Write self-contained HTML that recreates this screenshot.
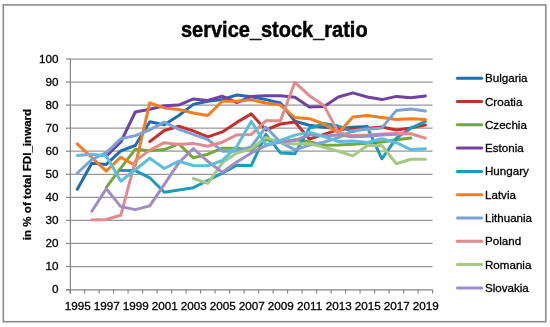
<!DOCTYPE html><html><head><meta charset="utf-8"><style>
html,body{margin:0;padding:0;background:#fff;width:550px;height:327px;overflow:hidden}
svg{display:block}
text{font-family:"Liberation Sans",sans-serif;fill:#000} .t{filter:grayscale(1);stroke:#000;stroke-width:0.3px} .g{filter:grayscale(1)}
</style></head><body>
<svg width="550" height="327" viewBox="0 0 550 327">
<rect x="0" y="0" width="550" height="327" fill="#fff"/>
<rect x="3.3" y="4.9" width="542.5" height="316.8" fill="none" stroke="#8a8a8a" stroke-width="1.6"/>
<text class="g" stroke="#000" stroke-width="0.45" transform="translate(274.3,36.9) scale(1,1.08)" text-anchor="middle" font-size="20" font-weight="bold">service_stock_ratio</text>
<line x1="66" y1="289.60" x2="70.10" y2="289.60" stroke="#8a8a8a" stroke-width="1.2"/>
<text class="t" x="58.6" y="293.20" text-anchor="end" font-size="11.7">0</text>
<line x1="70.10" y1="266.54" x2="432.60" y2="266.54" stroke="#979797" stroke-width="1.25"/>
<line x1="66" y1="266.54" x2="70.10" y2="266.54" stroke="#8a8a8a" stroke-width="1.2"/>
<text class="t" x="58.6" y="270.14" text-anchor="end" font-size="11.7">10</text>
<line x1="70.10" y1="243.48" x2="432.60" y2="243.48" stroke="#979797" stroke-width="1.25"/>
<line x1="66" y1="243.48" x2="70.10" y2="243.48" stroke="#8a8a8a" stroke-width="1.2"/>
<text class="t" x="58.6" y="247.08" text-anchor="end" font-size="11.7">20</text>
<line x1="70.10" y1="220.42" x2="432.60" y2="220.42" stroke="#979797" stroke-width="1.25"/>
<line x1="66" y1="220.42" x2="70.10" y2="220.42" stroke="#8a8a8a" stroke-width="1.2"/>
<text class="t" x="58.6" y="224.02" text-anchor="end" font-size="11.7">30</text>
<line x1="70.10" y1="197.36" x2="432.60" y2="197.36" stroke="#979797" stroke-width="1.25"/>
<line x1="66" y1="197.36" x2="70.10" y2="197.36" stroke="#8a8a8a" stroke-width="1.2"/>
<text class="t" x="58.6" y="200.96" text-anchor="end" font-size="11.7">40</text>
<line x1="70.10" y1="174.30" x2="432.60" y2="174.30" stroke="#979797" stroke-width="1.25"/>
<line x1="66" y1="174.30" x2="70.10" y2="174.30" stroke="#8a8a8a" stroke-width="1.2"/>
<text class="t" x="58.6" y="177.90" text-anchor="end" font-size="11.7">50</text>
<line x1="70.10" y1="151.24" x2="432.60" y2="151.24" stroke="#979797" stroke-width="1.25"/>
<line x1="66" y1="151.24" x2="70.10" y2="151.24" stroke="#8a8a8a" stroke-width="1.2"/>
<text class="t" x="58.6" y="154.84" text-anchor="end" font-size="11.7">60</text>
<line x1="70.10" y1="128.18" x2="432.60" y2="128.18" stroke="#979797" stroke-width="1.25"/>
<line x1="66" y1="128.18" x2="70.10" y2="128.18" stroke="#8a8a8a" stroke-width="1.2"/>
<text class="t" x="58.6" y="131.78" text-anchor="end" font-size="11.7">70</text>
<line x1="70.10" y1="105.12" x2="432.60" y2="105.12" stroke="#979797" stroke-width="1.25"/>
<line x1="66" y1="105.12" x2="70.10" y2="105.12" stroke="#8a8a8a" stroke-width="1.2"/>
<text class="t" x="58.6" y="108.72" text-anchor="end" font-size="11.7">80</text>
<line x1="70.10" y1="82.06" x2="432.60" y2="82.06" stroke="#979797" stroke-width="1.25"/>
<line x1="66" y1="82.06" x2="70.10" y2="82.06" stroke="#8a8a8a" stroke-width="1.2"/>
<text class="t" x="58.6" y="85.66" text-anchor="end" font-size="11.7">90</text>
<line x1="70.10" y1="59.00" x2="432.60" y2="59.00" stroke="#979797" stroke-width="1.25"/>
<line x1="66" y1="59.00" x2="70.10" y2="59.00" stroke="#8a8a8a" stroke-width="1.2"/>
<text class="t" x="58.6" y="62.60" text-anchor="end" font-size="11.7">100</text>
<line x1="70.4" y1="58.40" x2="70.4" y2="293.60" stroke="#878787" stroke-width="1.25"/>
<line x1="66.10" y1="289.8" x2="432.60" y2="289.8" stroke="#878787" stroke-width="1.3"/>
<line x1="70.10" y1="289.60" x2="70.10" y2="293.60" stroke="#8a8a8a" stroke-width="1.2"/>
<line x1="84.60" y1="289.60" x2="84.60" y2="293.60" stroke="#8a8a8a" stroke-width="1.2"/>
<line x1="99.10" y1="289.60" x2="99.10" y2="293.60" stroke="#8a8a8a" stroke-width="1.2"/>
<line x1="113.60" y1="289.60" x2="113.60" y2="293.60" stroke="#8a8a8a" stroke-width="1.2"/>
<line x1="128.10" y1="289.60" x2="128.10" y2="293.60" stroke="#8a8a8a" stroke-width="1.2"/>
<line x1="142.60" y1="289.60" x2="142.60" y2="293.60" stroke="#8a8a8a" stroke-width="1.2"/>
<line x1="157.10" y1="289.60" x2="157.10" y2="293.60" stroke="#8a8a8a" stroke-width="1.2"/>
<line x1="171.60" y1="289.60" x2="171.60" y2="293.60" stroke="#8a8a8a" stroke-width="1.2"/>
<line x1="186.10" y1="289.60" x2="186.10" y2="293.60" stroke="#8a8a8a" stroke-width="1.2"/>
<line x1="200.60" y1="289.60" x2="200.60" y2="293.60" stroke="#8a8a8a" stroke-width="1.2"/>
<line x1="215.10" y1="289.60" x2="215.10" y2="293.60" stroke="#8a8a8a" stroke-width="1.2"/>
<line x1="229.60" y1="289.60" x2="229.60" y2="293.60" stroke="#8a8a8a" stroke-width="1.2"/>
<line x1="244.10" y1="289.60" x2="244.10" y2="293.60" stroke="#8a8a8a" stroke-width="1.2"/>
<line x1="258.60" y1="289.60" x2="258.60" y2="293.60" stroke="#8a8a8a" stroke-width="1.2"/>
<line x1="273.10" y1="289.60" x2="273.10" y2="293.60" stroke="#8a8a8a" stroke-width="1.2"/>
<line x1="287.60" y1="289.60" x2="287.60" y2="293.60" stroke="#8a8a8a" stroke-width="1.2"/>
<line x1="302.10" y1="289.60" x2="302.10" y2="293.60" stroke="#8a8a8a" stroke-width="1.2"/>
<line x1="316.60" y1="289.60" x2="316.60" y2="293.60" stroke="#8a8a8a" stroke-width="1.2"/>
<line x1="331.10" y1="289.60" x2="331.10" y2="293.60" stroke="#8a8a8a" stroke-width="1.2"/>
<line x1="345.60" y1="289.60" x2="345.60" y2="293.60" stroke="#8a8a8a" stroke-width="1.2"/>
<line x1="360.10" y1="289.60" x2="360.10" y2="293.60" stroke="#8a8a8a" stroke-width="1.2"/>
<line x1="374.60" y1="289.60" x2="374.60" y2="293.60" stroke="#8a8a8a" stroke-width="1.2"/>
<line x1="389.10" y1="289.60" x2="389.10" y2="293.60" stroke="#8a8a8a" stroke-width="1.2"/>
<line x1="403.60" y1="289.60" x2="403.60" y2="293.60" stroke="#8a8a8a" stroke-width="1.2"/>
<line x1="418.10" y1="289.60" x2="418.10" y2="293.60" stroke="#8a8a8a" stroke-width="1.2"/>
<line x1="432.60" y1="289.60" x2="432.60" y2="293.60" stroke="#8a8a8a" stroke-width="1.2"/>
<text class="t" x="77.65" y="310.4" text-anchor="middle" font-size="11.7">1995</text>
<text class="t" x="106.65" y="310.4" text-anchor="middle" font-size="11.7">1997</text>
<text class="t" x="135.65" y="310.4" text-anchor="middle" font-size="11.7">1999</text>
<text class="t" x="164.65" y="310.4" text-anchor="middle" font-size="11.7">2001</text>
<text class="t" x="193.65" y="310.4" text-anchor="middle" font-size="11.7">2003</text>
<text class="t" x="222.65" y="310.4" text-anchor="middle" font-size="11.7">2005</text>
<text class="t" x="251.65" y="310.4" text-anchor="middle" font-size="11.7">2007</text>
<text class="t" x="280.65" y="310.4" text-anchor="middle" font-size="11.7">2009</text>
<text class="t" x="309.65" y="310.4" text-anchor="middle" font-size="11.7">2011</text>
<text class="t" x="338.65" y="310.4" text-anchor="middle" font-size="11.7">2013</text>
<text class="t" x="367.65" y="310.4" text-anchor="middle" font-size="11.7">2015</text>
<text class="t" x="396.65" y="310.4" text-anchor="middle" font-size="11.7">2017</text>
<text class="t" x="425.65" y="310.4" text-anchor="middle" font-size="11.7">2019</text>
<text class="g" stroke="#000" stroke-width="0.25" transform="translate(31.3,174.5) rotate(-90)" text-anchor="middle" font-size="11.6" font-weight="bold">in % of total FDI_inward</text>
<polyline points="77.3,189.3 91.8,163.2 106.3,164.4 120.8,150.8 135.3,145.5 149.8,121.7 164.3,124.7 178.8,115.5 193.3,104.4 207.8,101.2 222.3,99.4 236.8,95.0 251.3,96.8 265.9,99.6 280.4,103.0 294.9,121.3 309.4,125.2 323.9,127.3 338.4,128.6 352.9,127.3 367.4,126.6" fill="none" stroke="#1F6EB4" stroke-width="3.0" stroke-linejoin="round" stroke-linecap="round"/>
<polyline points="149.8,141.6 164.3,130.5 178.8,126.3 193.3,130.9 207.8,136.9 222.3,131.9 236.8,122.4 251.3,113.9 265.9,130.0 280.4,124.0 294.9,122.0 309.4,139.0 323.9,134.4 338.4,129.6 352.9,128.6 367.4,128.2 381.9,127.0 396.4,130.0 410.9,127.9 425.4,125.0" fill="none" stroke="#C4302D" stroke-width="3.0" stroke-linejoin="round" stroke-linecap="round"/>
<polyline points="106.3,187.4 120.8,168.1 135.3,149.2 149.8,150.8 164.3,149.6 178.8,143.9 193.3,157.9 207.8,154.2 222.3,148.2 236.8,148.2 251.3,149.9 265.9,139.7 280.4,142.0 294.9,139.7 309.4,141.6 323.9,145.2 338.4,145.0 352.9,144.3 367.4,143.2 381.9,142.0 396.4,139.7 410.9,138.1" fill="none" stroke="#72A83C" stroke-width="3.0" stroke-linejoin="round" stroke-linecap="round"/>
<polyline points="106.3,156.3 120.8,142.0 135.3,112.0 149.8,109.3 164.3,105.8 178.8,105.1 193.3,98.9 207.8,100.5 222.3,96.1 236.8,102.6 251.3,96.4 265.9,95.7 280.4,95.7 294.9,97.3 309.4,107.0 323.9,106.5 338.4,97.0 352.9,92.9 367.4,97.0 381.9,99.6 396.4,96.4 410.9,97.7 425.4,95.9" fill="none" stroke="#7043A0" stroke-width="3.0" stroke-linejoin="round" stroke-linecap="round"/>
<polyline points="120.8,170.4 135.3,170.6 149.8,177.8 164.3,192.3 178.8,190.0 193.3,187.7 207.8,180.5 222.3,173.1 236.8,165.3 251.3,165.5 265.9,134.4 280.4,152.9 294.9,153.8 309.4,128.2 323.9,123.6 338.4,126.1 352.9,131.6 367.4,127.5 381.9,158.8 396.4,138.1 410.9,128.2 425.4,121.3" fill="none" stroke="#1E9BB8" stroke-width="3.0" stroke-linejoin="round" stroke-linecap="round"/>
<polyline points="77.3,143.9 91.8,157.5 106.3,171.1 120.8,157.2 135.3,165.5 149.8,102.8 164.3,107.9 178.8,109.5 193.3,113.0 207.8,115.5 222.3,101.2 236.8,101.2 251.3,99.8 265.9,103.0 280.4,105.1 294.9,117.6 309.4,118.7 323.9,124.0 338.4,132.8 352.9,116.9 367.4,115.5 381.9,117.6 396.4,119.6 410.9,118.7 425.4,119.6" fill="none" stroke="#F47D20" stroke-width="3.0" stroke-linejoin="round" stroke-linecap="round"/>
<polyline points="77.3,173.1 91.8,159.5 106.3,152.6 120.8,138.8 135.3,135.6 149.8,129.8 164.3,122.2 178.8,129.3 193.3,134.4 207.8,139.5 222.3,151.2 236.8,151.2 251.3,146.6 265.9,127.0 280.4,142.2 294.9,149.9 309.4,145.0 323.9,142.2 338.4,137.6 352.9,130.7 367.4,129.3 381.9,127.9 396.4,110.4 410.9,109.0 425.4,111.1" fill="none" stroke="#7BA3D6" stroke-width="3.0" stroke-linejoin="round" stroke-linecap="round"/>
<polyline points="91.8,220.0 106.3,219.5 120.8,215.3 135.3,160.9 149.8,150.1 164.3,142.7 178.8,144.6 193.3,143.4 207.8,146.2 222.3,142.2 236.8,134.9 251.3,134.4 265.9,120.8 280.4,120.8 294.9,82.3 309.4,95.7 323.9,105.4 338.4,132.6 352.9,135.6 367.4,135.1 381.9,133.9 396.4,133.5 410.9,133.7 425.4,138.1" fill="none" stroke="#E38A8C" stroke-width="3.0" stroke-linejoin="round" stroke-linecap="round"/>
<polyline points="193.3,178.5 207.8,183.3 222.3,162.8 236.8,153.1 251.3,148.9 265.9,137.4 280.4,142.7 294.9,144.1 309.4,143.6 323.9,147.3 338.4,151.2 352.9,155.9 367.4,145.5 381.9,145.5 396.4,163.7 410.9,159.3 425.4,159.3" fill="none" stroke="#A3C984" stroke-width="3.0" stroke-linejoin="round" stroke-linecap="round"/>
<polyline points="91.8,211.2 106.3,188.8 120.8,206.6 135.3,209.6 149.8,205.9 164.3,184.4 178.8,162.8 193.3,148.5 207.8,161.4 222.3,172.2 236.8,162.1 251.3,152.9 265.9,145.5 280.4,142.0 294.9,140.6 309.4,134.6 323.9,136.0 338.4,134.9 352.9,136.7 367.4,136.3 381.9,134.9 396.4,134.2" fill="none" stroke="#A18CC6" stroke-width="3.0" stroke-linejoin="round" stroke-linecap="round"/>
<polyline points="77.3,155.4 91.8,154.2 106.3,155.9 120.8,181.2 135.3,169.7 149.8,158.2 164.3,168.5 178.8,161.2 193.3,165.5 207.8,165.8 222.3,160.5 236.8,146.6 251.3,121.3 265.9,145.0 280.4,140.4 294.9,135.1 309.4,132.1 323.9,136.5 338.4,141.6 352.9,141.1 367.4,142.5 381.9,138.8 396.4,142.7 410.9,149.6 425.4,148.7" fill="none" stroke="#5BBFDB" stroke-width="3.0" stroke-linejoin="round" stroke-linecap="round"/>
<line x1="457.4" y1="78.2" x2="481.7" y2="78.2" stroke="#1F6EB4" stroke-width="3.0" stroke-linecap="round"/>
<text class="t" x="485" y="82.2" font-size="11.6">Bulgaria</text>
<line x1="457.4" y1="101.5" x2="481.7" y2="101.5" stroke="#C4302D" stroke-width="3.0" stroke-linecap="round"/>
<text class="t" x="485" y="105.5" font-size="11.6">Croatia</text>
<line x1="457.4" y1="124.8" x2="481.7" y2="124.8" stroke="#72A83C" stroke-width="3.0" stroke-linecap="round"/>
<text class="t" x="485" y="128.8" font-size="11.6">Czechia</text>
<line x1="457.4" y1="148.1" x2="481.7" y2="148.1" stroke="#7043A0" stroke-width="3.0" stroke-linecap="round"/>
<text class="t" x="485" y="152.1" font-size="11.6">Estonia</text>
<line x1="457.4" y1="171.4" x2="481.7" y2="171.4" stroke="#1E9BB8" stroke-width="3.0" stroke-linecap="round"/>
<text class="t" x="485" y="175.4" font-size="11.6">Hungary</text>
<line x1="457.4" y1="194.7" x2="481.7" y2="194.7" stroke="#F47D20" stroke-width="3.0" stroke-linecap="round"/>
<text class="t" x="485" y="198.7" font-size="11.6">Latvia</text>
<line x1="457.4" y1="218.0" x2="481.7" y2="218.0" stroke="#7BA3D6" stroke-width="3.0" stroke-linecap="round"/>
<text class="t" x="485" y="222.0" font-size="11.6">Lithuania</text>
<line x1="457.4" y1="241.3" x2="481.7" y2="241.3" stroke="#E38A8C" stroke-width="3.0" stroke-linecap="round"/>
<text class="t" x="485" y="245.3" font-size="11.6">Poland</text>
<line x1="457.4" y1="264.6" x2="481.7" y2="264.6" stroke="#A3C984" stroke-width="3.0" stroke-linecap="round"/>
<text class="t" x="485" y="268.6" font-size="11.6">Romania</text>
<line x1="457.4" y1="287.9" x2="481.7" y2="287.9" stroke="#A18CC6" stroke-width="3.0" stroke-linecap="round"/>
<text class="t" x="485" y="291.9" font-size="11.6">Slovakia</text>
</svg></body></html>
